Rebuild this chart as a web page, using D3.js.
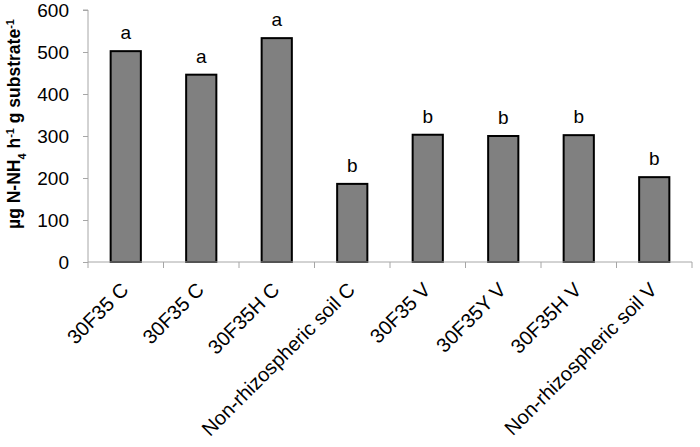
<!DOCTYPE html>
<html>
<head>
<meta charset="utf-8">
<script src="https://cdn.jsdelivr.net/npm/d3@7"></script>
<style>
  body { margin: 0; background: #fff; }
  text { font-family: Arial, "Liberation Sans", sans-serif; fill: #000; }
</style>
</head>
<body>
<div id="chart"></div>
<script>
// data
const categories = ["30F35 C", "30F35 C ", "30F35H C", "Non-rhizospheric soil C",
                    "30F35 V", "30F35Y V", "30F35H V", "Non-rhizospheric soil V"];
const values = [502, 446, 533, 186, 303, 300, 302, 202];
const letters = ["a", "a", "a", "b", "b", "b", "b", "b"];
const yTicks = [0, 100, 200, 300, 400, 500, 600];

const width = 700, height = 447;
const margin = {top: 10, right: 8, bottom: 185, left: 88};
const innerW = width - margin.left - margin.right;
const innerH = height - margin.top - margin.bottom;

const svg = d3.select("#chart").append("svg")
    .attr("width", width)
    .attr("height", height);

const g = svg.append("g")
    .attr("transform", `translate(${margin.left},${margin.top})`);

const x = d3.scaleBand()
    .domain(categories)
    .range([0, innerW])
    .paddingInner(0.6)
    .paddingOuter(0.3);

const xb = d3.scaleBand().domain(categories).range([0, innerW]).padding(0);

const y = d3.scaleLinear()
    .domain([0, 600])
    .range([innerH, 0]);

const axisColor = "#a6a6a6";

// y axis
const yAxis = g.append("g")
    .call(d3.axisLeft(y).tickValues(yTicks).tickSize(5).tickPadding(14));
yAxis.selectAll("path, line").attr("stroke", axisColor);
yAxis.select(".domain").attr("d", `M-5,${y(600)}H0V${innerH}`);
yAxis.selectAll("text")
    .style("font-size", "19px")
    .attr("fill", "#000")
    .attr("dy", "0.35em");

// bars
g.selectAll(".bar")
    .data(values)
    .enter()
    .append("rect")
    .attr("class", "bar")
    .attr("x", (d, i) => x(categories[i]))
    .attr("y", d => y(d))
    .attr("width", x.bandwidth())
    .attr("height", d => innerH - y(d))
    .attr("fill", "#808080")
    .attr("stroke", "#000")
    .attr("stroke-width", 2);

// significance letters
g.selectAll(".letter")
    .data(letters)
    .enter()
    .append("text")
    .attr("class", "letter")
    .attr("x", (d, i) => x(categories[i]) + x.bandwidth() / 2)
    .attr("y", (d, i) => y(values[i]) - 12)
    .attr("text-anchor", "middle")
    .style("font-size", "19px")
    .text(d => d);

// x axis line and ticks at band boundaries
const xAxis = g.append("g").attr("transform", `translate(0,${innerH})`);
xAxis.append("line")
    .attr("x1", 0).attr("x2", innerW)
    .attr("stroke", axisColor);
const bounds = categories.map(c => xb(c)).concat([innerW]);
xAxis.selectAll(".tick")
    .data(bounds)
    .enter()
    .append("line")
    .attr("x1", d => d).attr("x2", d => d)
    .attr("y1", 0).attr("y2", 6)
    .attr("stroke", axisColor);

xAxis.selectAll(".xlabel")
    .data(categories)
    .enter()
    .append("text")
    .attr("class", "xlabel")
    .attr("text-anchor", "end")
    .attr("transform", c => `translate(${xb(c) + xb.bandwidth() / 2 + 4},${29}) rotate(-45)`)
    .style("font-size", "20px")
    .text(c => c.trim());

// y axis title
const title = svg.append("text")
    .attr("transform", `translate(20,${margin.top + innerH / 2 - 12}) rotate(-90)`)
    .attr("text-anchor", "middle")
    .style("font-size", "17.5px")
    .style("font-weight", "bold");
title.append("tspan").text("µg N-NH");
title.append("tspan").attr("baseline-shift", "sub").style("font-size", "11px").text("4");
title.append("tspan").text(" h");
title.append("tspan").attr("baseline-shift", "super").style("font-size", "11px").text("-1");
title.append("tspan").text(" g substrate");
title.append("tspan").attr("baseline-shift", "super").style("font-size", "11px").text("-1");
</script>
</body>
</html>
